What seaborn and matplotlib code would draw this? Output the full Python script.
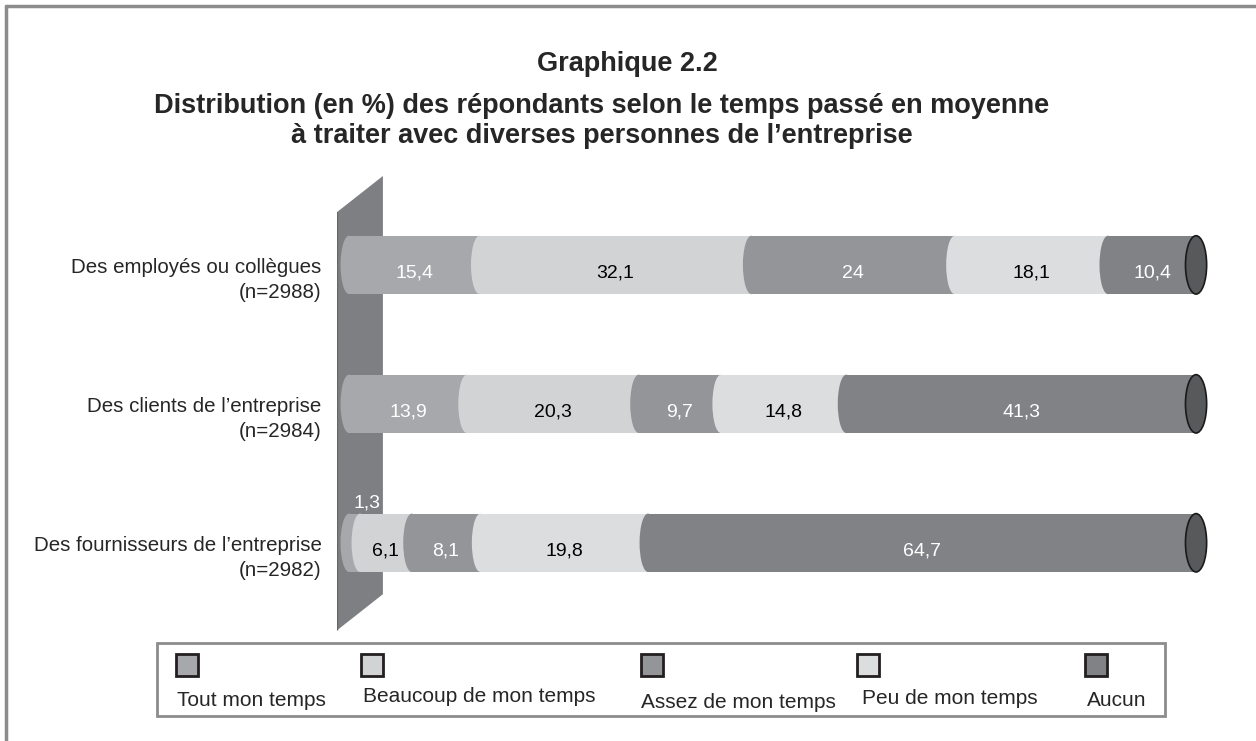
import numpy as np
import matplotlib
matplotlib.use("Agg")
import matplotlib.pyplot as plt
import seaborn as sns
from matplotlib.patches import Ellipse, Polygon, Rectangle
from matplotlib.lines import Line2D

# data
categories = [
    "Des employés ou collègues\n(n=2988)",
    "Des clients de l’entreprise\n(n=2984)",
    "Des fournisseurs de l’entreprise\n(n=2982)",
]
levels = ["Tout mon temps", "Beaucoup de mon temps", "Assez de mon temps",
          "Peu de mon temps", "Aucun"]
tout = [15.4, 13.9, 1.3]
beaucoup = [32.1, 20.3, 6.1]
assez = [24.0, 9.7, 8.1]
peu = [18.1, 14.8, 19.8]
aucun = [10.4, 41.3, 64.7]

colors = ["#a7a8ab", "#d2d3d5", "#939598", "#dcdddf", "#808285"]
text_colors = ["white", "black", "white", "black", "white"]

title = "Graphique 2.2"
subtitle = ("Distribution (en %) des répondants selon le temps passé en moyenne\n"
            "à traiter avec diverses personnes de l’entreprise")

sns.set_style("white")
plt.rcParams['font.family'] = ['Liberation Sans', 'DejaVu Sans']

series = np.array([tout, beaucoup, assez, peu, aucun])
cum = np.cumsum(series, axis=0)
starts = cum - series

fig = plt.figure(figsize=(12.56, 7.41), dpi=100)
ax = fig.add_axes([337 / 1256, 1 - 647 / 741, (1213 - 337) / 1256, (647 - 174.6) / 741])

bar_h = 0.42

# gray "wall" behind the bars
wall = Polygon([(-1.42, -0.38), (4.0, -0.64), (4.0, 2.37), (-1.42, 2.63)],
               closed=True, fc="#7e7f82", ec="none", zorder=0)
ax.add_patch(wall)
ax.plot([-1.42, -1.42], [-0.38, 2.63], color="#666666", lw=1, zorder=1,
        solid_capstyle="butt")

# stacked bars: draw cumulative totals from the longest to the shortest
for k in range(len(levels) - 1, -1, -1):
    sns.barplot(x=cum[k], y=categories, orient="h", color=colors[k],
                saturation=1, width=bar_h, errorbar=None, linewidth=0,
                ax=ax, zorder=2)

# rounded left edge of each segment + end caps (cylinder look)
for i in range(len(categories)):
    for k in range(len(levels)):
        ax.add_patch(Ellipse((starts[k, i], i), 2.0, bar_h, fc=colors[k],
                             ec="none", zorder=3))
    ax.add_patch(Ellipse((cum[-1, i], i), 2.5, bar_h, fc="#58595b",
                         ec="#1a1a1a", lw=1.2, zorder=4, clip_on=False))

# value labels
for i in range(len(categories)):
    for k in range(len(levels)):
        v = series[k, i]
        lab = f"{v:g}".replace(".", ",")
        cx = starts[k, i] + v / 2
        if v < 3:
            ax.text(max(cx, 2.1), i - 0.29, lab, color="white", fontsize=14,
                    ha="center", va="center", zorder=5)
        else:
            ax.text(cx, i + 0.06, lab, color=text_colors[k], fontsize=14,
                    ha="center", va="center", zorder=5)

ax.set_xlim(-1.42, 102)
ax.set_ylim(2.75, -0.65)
ax.set_xticks([])
ax.set_xlabel("")
ax.set_ylabel("")
ax.set_yticks([i + 0.07 for i in range(len(categories))])
ax.set_yticklabels(categories, fontsize=14.8, linespacing=1.45)
ax.set_yticks([-0.37, 0.63, 1.63, 2.63], minor=True)
ax.tick_params(axis="y", which="major", length=0, pad=11)
ax.tick_params(axis="y", which="minor", length=5, width=1, color="#666666",
               direction="out")
for s in ax.spines.values():
    s.set_visible(False)
ax.patch.set_alpha(0)

# titles
fig.text(627 / 1256, 1 - 64 / 741, title, ha="center", va="center",
         fontsize=19.5, fontweight="bold")
fig.text(602 / 1256, 1 - 121 / 741, subtitle, ha="center", va="center",
         fontsize=19.5, fontweight="bold", linespacing=1.2)

# legend box: square above each label
fig.add_artist(Rectangle((157 / 1256, 1 - 716 / 741), (1165 - 157) / 1256,
                         (716 - 643) / 741, transform=fig.transFigure,
                         fill=False, ec="#8c8c8c", lw=2))
sq_x = [176, 361, 641, 857, 1085]
txt_x = [177, 363, 641, 862, 1087]
txt_y = [700, 697, 702, 698, 700]
for k, name in enumerate(levels):
    fig.add_artist(Rectangle((sq_x[k] / 1256, 1 - 676 / 741), 22 / 1256, 22 / 741,
                             transform=fig.transFigure, fc=colors[k],
                             ec="#231f20", lw=2))
    fig.text(txt_x[k] / 1256, 1 - txt_y[k] / 741, name, ha="left", va="center",
             fontsize=15)

# outer frame (top and left edges visible)
fig.add_artist(Line2D([6 / 1256, 1], [1 - 6 / 741, 1 - 6 / 741],
                      transform=fig.transFigure, color="#8c8c8c", lw=2.5))
fig.add_artist(Line2D([6 / 1256, 6 / 1256], [0, 1 - 6 / 741],
                      transform=fig.transFigure, color="#8c8c8c", lw=2.5))

fig.savefig("out.png", dpi=100)
